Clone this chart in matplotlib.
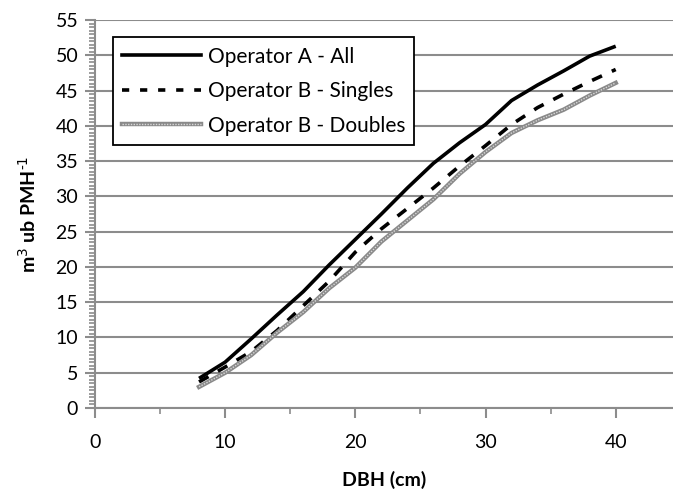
import matplotlib
matplotlib.use("Agg")
import matplotlib.pyplot as plt
from matplotlib.ticker import MultipleLocator
from matplotlib.lines import Line2D

plt.rcParams['font.family'] = ['Lato', 'DejaVu Sans']
plt.rcParams['axes.unicode_minus'] = False

dbh = [8, 10, 12, 14, 16, 18, 20, 22, 24, 26, 28, 30, 32, 34, 36, 38, 40]
op_a_all = [4.2, 6.5, 9.8, 13.2, 16.5, 20.3, 23.9, 27.5, 31.2, 34.7, 37.6, 40.2, 43.6, 45.8, 47.8, 49.9, 51.3]
op_b_singles = [3.7, 5.8, 8.0, 11.0, 14.5, 18.0, 22.1, 25.4, 28.3, 31.2, 34.3, 37.2, 40.2, 42.6, 44.5, 46.3, 48.0]
op_b_doubles = [3.0, 5.0, 7.5, 10.7, 13.6, 17.0, 19.9, 23.6, 26.6, 29.6, 33.2, 36.3, 39.0, 40.8, 42.3, 44.3, 46.1]

fig = plt.figure(figsize=(6.73, 4.91), dpi=100)
ax = fig.add_axes([0.141, 0.169, 0.859, 0.79])

ax.plot(dbh, op_a_all, color='black', lw=2.6, solid_capstyle='butt')
ax.plot(dbh, op_b_singles, color='black', lw=2.6, ls=(0, (3, 3)))
ax.plot(dbh, op_b_doubles, color='#8a8a8a', lw=3.2)
ax.plot(dbh, op_b_doubles, color='#d8d8d8', lw=1.0, ls=(0, (1, 1)))

ax.set_xlim(0, 44.4)
ax.set_ylim(0, 55)
ax.xaxis.set_major_locator(MultipleLocator(10))
ax.xaxis.set_minor_locator(MultipleLocator(5))
ax.yaxis.set_major_locator(MultipleLocator(5))
ax.yaxis.set_minor_locator(MultipleLocator(0.5))
ax.grid(axis='y', color='#8c8c8c', lw=1.5)
ax.set_axisbelow(True)

for s in ['top', 'right']:
    ax.spines[s].set_visible(False)
for s in ['left', 'bottom']:
    ax.spines[s].set_color('#8c8c8c')
    ax.spines[s].set_linewidth(1.5)

ax.tick_params(axis='both', which='major', labelsize=14, color='#8c8c8c', width=1.5, length=7, pad=12)
ax.tick_params(axis='both', which='minor', color='#8c8c8c', width=1.2, length=4)
ax.tick_params(axis='y', which='major', pad=5)

ax.set_xlabel('DBH (cm)', fontsize=14, fontweight='bold', labelpad=14)
ax.set_ylabel(r'm$^3$ ub PMH$^{\text{-}1}$', fontsize=14, fontweight='bold', labelpad=12)

h_a = Line2D([], [], color='black', lw=2.6)
h_s = Line2D([], [], color='black', lw=2.6, ls=(0, (2, 3)))
h_d1 = Line2D([], [], color='#8a8a8a', lw=3.2)
h_d2 = Line2D([], [], color='#d8d8d8', lw=1.0, ls=(0, (1, 1)))
leg = ax.legend([h_a, h_s, (h_d1, h_d2)],
                ['Operator A - All', 'Operator B - Singles', 'Operator B - Doubles'],
                loc='upper left', bbox_to_anchor=(0.031, 0.956), borderaxespad=0,
                fontsize=15, handlelength=3.8, labelspacing=0.7, handletextpad=0.3,
                borderpad=0.45, fancybox=False, framealpha=1, edgecolor='black')
leg.get_frame().set_linewidth(1.3)

fig.savefig('out.png', dpi=100)
